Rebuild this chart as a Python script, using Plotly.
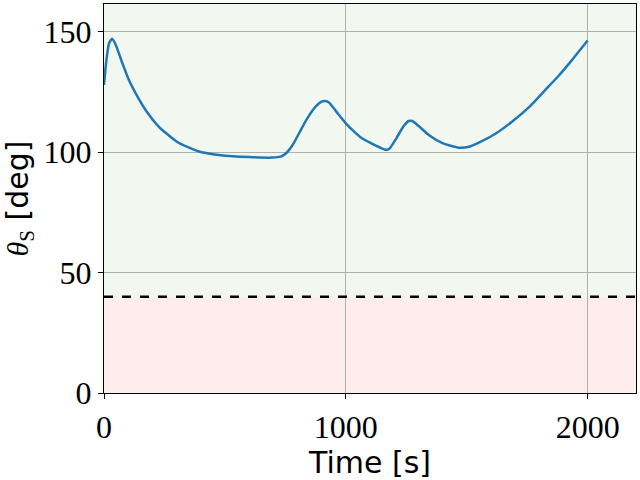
import plotly.graph_objects as go

# time [s] and sun angle [deg]
time_s = [0, 10, 21, 34, 48, 76, 103, 131, 172, 227, 256, 300, 350, 393,
          450, 529, 600, 695, 730, 752, 780, 806, 840, 875, 900, 913, 930,
          960, 1000, 1030, 1067, 1120, 1167, 1180, 1210, 1240, 1260, 1275,
          1300, 1343, 1400, 1467, 1510, 1550, 1620, 1687, 1760, 1825, 1880,
          1935, 2000]
theta_s = [128, 138.3, 145.3, 147.2, 144.8, 137, 130, 124.5, 117.6, 110.6,
           108, 104.5, 102, 100.3, 99.2, 98.4, 98, 97.8, 98.2, 99.5, 103,
           107.8, 114, 119, 121, 121.3, 120.7, 117, 112, 109, 105.8, 103,
           101, 101.5, 106, 111, 113, 113, 111, 107.2, 103.8, 101.9, 102.3,
           104, 107.8, 112.7, 119, 125.9, 131.8, 138.3, 146.4]

limit = 40
x_range = [0, 2200]
y_range = [0, 161.6]
x_ticks = [0, 1000, 2000]
y_ticks = [0, 50, 100, 150]

fig = go.Figure()
fig.add_trace(go.Scatter(x=time_s, y=theta_s, mode='lines',
                         line=dict(color='#1f77b4', width=2.5, shape='spline', smoothing=0.6),
                         showlegend=False))

# safe / unsafe zones
fig.add_shape(type='rect', xref='x', yref='y', x0=x_range[0], x1=x_range[1],
              y0=limit, y1=y_range[1], fillcolor='#f2f8f0', line_width=0, layer='below')
fig.add_shape(type='rect', xref='x', yref='y', x0=x_range[0], x1=x_range[1],
              y0=y_range[0], y1=limit, fillcolor='#ffeded', line_width=0, layer='below')
fig.add_shape(type='line', xref='x', yref='y', x0=x_range[0], x1=x_range[1],
              y0=limit, y1=limit, line=dict(color='black', width=2.5, dash='dash'))

axis_style = dict(showline=True, linecolor='black', linewidth=1.2, mirror=True,
                  ticks='outside', ticklen=5, tickcolor='black', automargin=False,
                  showgrid=True, gridcolor='#b0b0b0', gridwidth=1, zeroline=False,
                  tickfont=dict(family='Liberation Serif', size=32, color='black'))

fig.update_xaxes(range=x_range, tickvals=x_ticks, **axis_style,
                 title=dict(text='Time [s]', standoff=6,
                            font=dict(family='DejaVu Sans', size=30, color='black')))
fig.update_yaxes(range=y_range, tickvals=y_ticks, **axis_style,
                 title=dict(text='<span style="font-family:Liberation Serif"><i>θ</i><sub>S</sub></span> [deg]',
                            standoff=6,
                            font=dict(family='DejaVu Sans', size=30, color='black')))

fig.update_layout(width=640, height=480, plot_bgcolor='white', paper_bgcolor='white',
                  margin=dict(l=104, r=4, t=4, b=87))

# drop the default 8px body margin so the figure sits at the window corner
fig.write_html("out.html", config={'displayModeBar': False},
               post_script="document.body.style.margin='0';")
